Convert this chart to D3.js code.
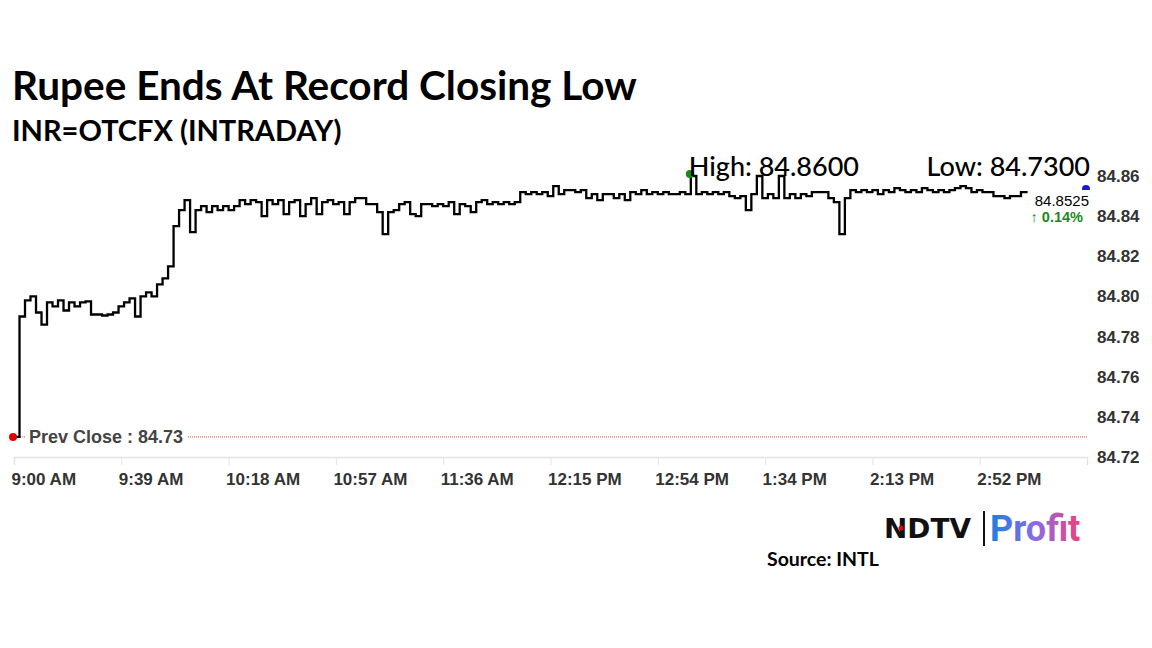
<!DOCTYPE html>
<html>
<head>
<meta charset="utf-8">
<script src="https://cdn.jsdelivr.net/npm/d3@7"></script>
<style>
  html, body { margin: 0; padding: 0; background: #fff; }
  svg { display: block; }
</style>
</head>
<body>
<svg id="chart" width="1152" height="648"></svg>
<script>
// ---------------- DATA ----------------
const title = "Rupee Ends At Record Closing Low";
const subtitle = "INR=OTCFX (INTRADAY)";
const source = "Source: INTL";
const prevClose = 84.73;
const highValue = 84.86;
const lowValue = 84.73;
const lastValue = 84.8525;
const changePct = "0.14%";
const stepMinutes = 2; // minutes between readings, from 9:00 AM
const prices = [
  84.73, 84.79, 84.798, 84.80, 84.792, 84.786, 84.797, 84.795, 84.798, 84.793,
  84.797, 84.795, 84.797, 84.7975, 84.791, 84.791, 84.7905, 84.791, 84.792, 84.795,
  84.797, 84.799, 84.79, 84.80, 84.802, 84.80, 84.806, 84.809, 84.815, 84.835,
  84.843, 84.848, 84.832, 84.843, 84.845, 84.842, 84.845, 84.843, 84.845, 84.843,
  84.845, 84.848, 84.846, 84.848, 84.847, 84.84, 84.848, 84.846, 84.848, 84.841,
  84.847, 84.848, 84.84, 84.846, 84.849, 84.841, 84.847, 84.848, 84.846, 84.847,
  84.841, 84.847, 84.849, 84.849, 84.846, 84.846, 84.842, 84.831, 84.842, 84.843,
  84.846, 84.847, 84.841, 84.84, 84.846, 84.846, 84.845, 84.846, 84.845, 84.847,
  84.841, 84.846, 84.845, 84.842, 84.847, 84.848, 84.846, 84.847, 84.846, 84.847,
  84.846, 84.847, 84.852, 84.851, 84.852, 84.851, 84.852, 84.850, 84.855, 84.851,
  84.853, 84.853, 84.852, 84.853, 84.849, 84.851, 84.848, 84.851, 84.851, 84.849,
  84.851, 84.848, 84.852, 84.851, 84.853, 84.851, 84.852, 84.851, 84.852, 84.851,
  84.851, 84.852, 84.851, 84.86, 84.851, 84.852, 84.851, 84.852, 84.851, 84.852,
  84.850, 84.849, 84.850, 84.843, 84.851, 84.86, 84.849, 84.851, 84.849, 84.86,
  84.849, 84.851, 84.849, 84.851, 84.850, 84.852, 84.852, 84.852, 84.849, 84.847,
  84.831, 84.849, 84.853, 84.852, 84.853, 84.852, 84.853, 84.851, 84.853, 84.852,
  84.854, 84.853, 84.852, 84.853, 84.852, 84.854, 84.853, 84.852, 84.853, 84.852,
  84.853, 84.854, 84.855, 84.854, 84.852, 84.853, 84.852, 84.852, 84.850, 84.850,
  84.849, 84.850, 84.850, 84.852, 84.8525
];
const xTickMinutes = [0, 39, 78, 117, 156, 195, 234, 273, 312, 351, 390];
const xTickLabels = ["9:00 AM", "9:39 AM", "10:18 AM", "10:57 AM", "11:36 AM",
  "12:15 PM", "12:54 PM", "1:34 PM", "2:13 PM", "2:52 PM", ""];
const yTicks = [84.72, 84.74, 84.76, 84.78, 84.80, 84.82, 84.84, 84.86];

// ---------------- CHART ----------------
const svg = d3.select("#chart");
const x = d3.scaleLinear().domain([0, 390]).range([14, 1087]);
const y = d3.scaleLinear().domain([84.72, 84.86]).range([457, 176]);
const axisFont = "'Liberation Sans', Arial, sans-serif";
const titleFont = "Lato, 'Open Sans', sans-serif";

// Titles
svg.append("text").attr("x", 12).attr("y", 100)
  .attr("font-family", titleFont).attr("font-weight", 700).attr("font-size", 40.5)
  .attr("fill", "#000").text(title);
svg.append("text").attr("x", 12).attr("y", 141)
  .attr("font-family", titleFont).attr("font-weight", 700).attr("font-size", 29)
  .attr("fill", "#000").text(subtitle);

// X axis
const xAxis = d3.axisBottom(x).tickValues(xTickMinutes)
  .tickFormat((d, i) => xTickLabels[i]).tickSize(8).tickPadding(8);
const gx = svg.append("g").attr("transform", `translate(0,${y(84.72)})`).call(xAxis);
gx.select(".domain").attr("stroke", "#e3e3e3").attr("stroke-width", 1.5);
gx.selectAll(".tick line").attr("stroke", "#e3e3e3");
gx.selectAll(".tick text").attr("text-anchor", "start").attr("dx", -3)
  .attr("font-family", axisFont).attr("font-weight", 700).attr("font-size", 17).attr("fill", "#333");

// Y axis (labels on right)
const yAxis = d3.axisRight(y).tickValues(yTicks).tickFormat(d3.format(".2f")).tickSize(0).tickPadding(0);
const gy = svg.append("g").attr("transform", "translate(1097,0)").call(yAxis);
gy.select(".domain").remove();
gy.selectAll(".tick text").attr("font-family", axisFont).attr("font-weight", 700)
  .attr("font-size", 17).attr("fill", "#333");

// Prev close dotted line
svg.append("line").attr("x1", x(0)).attr("x2", x(390))
  .attr("y1", y(prevClose)).attr("y2", y(prevClose))
  .attr("stroke", "#d9534f").attr("stroke-width", 1).attr("stroke-dasharray", "1,1");
const pcg = svg.append("g");
const pcRect = pcg.append("rect").attr("fill", "#fff");
const pc = pcg.append("text").attr("x", 29).attr("y", y(prevClose)).attr("dy", "0.35em")
  .attr("font-family", axisFont).attr("font-weight", 700).attr("font-size", 18)
  .attr("fill", "#444").text("Prev Close : " + prevClose.toFixed(2));
const pcb = pc.node().getBBox();
pcRect.attr("x", pcb.x - 4).attr("y", pcb.y).attr("width", pcb.width + 8).attr("height", pcb.height);

// Price line
const line = d3.line()
  .x((d, i) => x(i * stepMinutes))
  .y(d => y(d))
  .curve(d3.curveStepAfter);
svg.append("path").datum(prices).attr("d", line)
  .attr("fill", "none").attr("stroke", "#000").attr("stroke-width", 2.3)
  .attr("stroke-linejoin", "miter");

// Prev close marker
svg.append("circle").attr("cx", x(0) - 1).attr("cy", y(prevClose)).attr("r", 4).attr("fill", "#e00000");

// High marker and labels
const hiIdx = prices.indexOf(highValue);
svg.append("circle").attr("cx", x(hiIdx * stepMinutes) - 1).attr("cy", y(highValue) - 2)
  .attr("r", 4).attr("fill", "#1a8a1a");
svg.append("text").attr("x", x(hiIdx * stepMinutes) - 2).attr("y", 176)
  .attr("font-family", titleFont).attr("font-weight", 500).attr("font-size", 27)
  .attr("fill", "#000").text("High: " + highValue.toFixed(4));
svg.append("text").attr("x", 1090).attr("y", 176).attr("text-anchor", "end")
  .attr("font-family", titleFont).attr("font-weight", 500).attr("font-size", 27)
  .attr("fill", "#000").text("Low: " + lowValue.toFixed(4));

// Last value marker & labels
svg.append("circle").attr("cx", 1086).attr("cy", 189).attr("r", 4).attr("fill", "#1a1acc");
svg.append("rect").attr("x", 1033).attr("y", 190).attr("width", 58).attr("height", 34).attr("fill", "#fff");
svg.append("text").attr("x", 1089).attr("y", 201).attr("dy", "0.35em").attr("text-anchor", "end")
  .attr("font-family", axisFont).attr("font-weight", 400).attr("font-size", 15)
  .attr("fill", "#000").text(lastValue.toFixed(4));
svg.append("text").attr("x", 1083).attr("y", 217).attr("dy", "0.35em").attr("text-anchor", "end")
  .attr("font-family", axisFont).attr("font-weight", 700).attr("font-size", 14.5)
  .attr("fill", "#1a8a1a").text("\u2191 " + changePct);

// Logo
const logo = svg.append("g");
logo.append("text").attr("x", 884).attr("y", 538)
  .attr("font-family", "'DejaVu Sans', sans-serif").attr("font-weight", 700).attr("font-size", 26)
  .attr("textLength", 87).attr("lengthAdjust", "spacingAndGlyphs")
  .attr("fill", "#111").text("NDTV");
logo.append("circle").attr("cx", 901).attr("cy", 528).attr("r", 2.5).attr("fill", "#e00");
logo.append("line").attr("x1", 984).attr("x2", 984).attr("y1", 511).attr("y2", 546)
  .attr("stroke", "#111").attr("stroke-width", 2);
const defs = svg.append("defs");
const grad = defs.append("linearGradient").attr("id", "pg").attr("x1", "0%").attr("x2", "100%");
grad.append("stop").attr("offset", "0%").attr("stop-color", "#1e7fe0");
grad.append("stop").attr("offset", "50%").attr("stop-color", "#8a6ae8");
grad.append("stop").attr("offset", "100%").attr("stop-color", "#f0407a");
logo.append("text").attr("x", 990).attr("y", 541)
  .attr("font-family", "Roboto, 'Open Sans', sans-serif").attr("font-weight", 700).attr("font-size", 36)
  .attr("fill", "url(#pg)").text("Profit");

// Source
svg.append("text").attr("x", 767).attr("y", 566)
  .attr("font-family", titleFont).attr("font-weight", 700).attr("font-size", 19.5)
  .attr("fill", "#000").text(source);
</script>
</body>
</html>
